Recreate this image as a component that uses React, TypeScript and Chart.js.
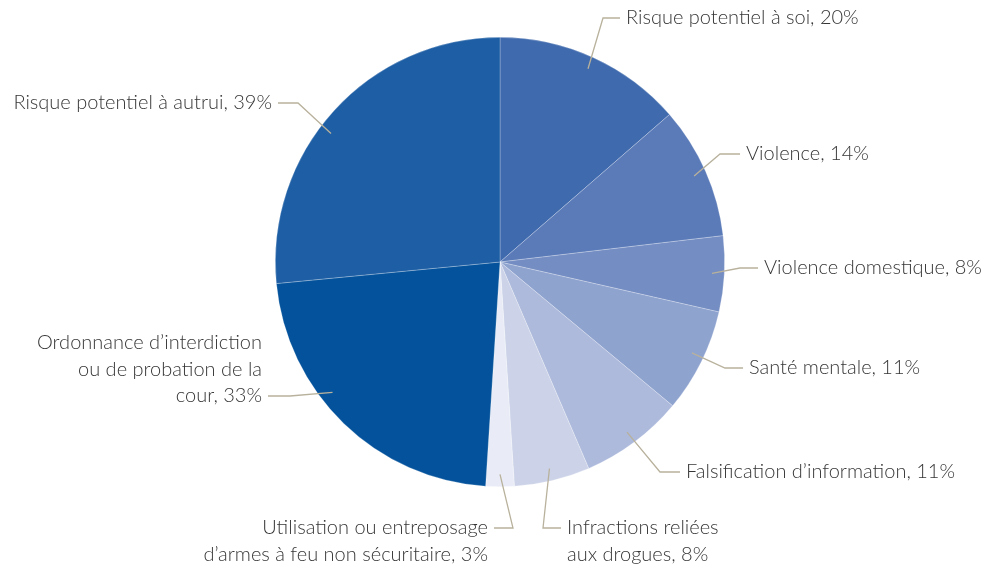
import React, { useEffect, useRef } from "react";
import { Chart, registerables } from "chart.js";

Chart.register(...registerables);

const categories: string[][] = [
  ["Risque potentiel à soi, 20%"],
  ["Violence, 14%"],
  ["Violence domestique, 8%"],
  ["Santé mentale, 11%"],
  ["Falsification d’information, 11%"],
  ["Infractions reliées", "aux drogues, 8%"],
  ["Utilisation ou entreposage", "d’armes à feu non sécuritaire, 3%"],
  ["Ordonnance d’interdiction", "ou de probation de la", "cour, 33%"],
  ["Risque potentiel à autrui, 39%"],
];
const values: number[] = [20, 14, 8, 11, 11, 8, 3, 33, 39];
const colors: string[] = [
  "#3f6aad",
  "#5a7ab8",
  "#748dc2",
  "#8fa3cf",
  "#adbadc",
  "#ccd3e8",
  "#e9ecf6",
  "#03529b",
  "#1e5ea4",
];

// label layout: angle offset (deg) for leader start, elbow point, text side
const layout = [
  { da: 0, ex: 603, ey: 18, hx: 620, side: "r" },
  { da: 0, ex: 720, ey: 154, hx: 740, side: "r" },
  { da: 0, ex: 740, ey: 268, hx: 758, side: "r" },
  { da: -1, ex: 725, ey: 368, hx: 743, side: "r" },
  { da: 0, ex: 660, ey: 472, hx: 680, side: "r" },
  { da: 0, ex: 543, ey: 528, hx: 561, side: "r" },
  { da: 0, ex: 513, ey: 528, hx: 494, side: "l" },
  { da: 8, ex: 290, ey: 396, hx: 268, side: "l" },
  { da: -5, ex: 298, ey: 103, hx: 278, side: "l" },
];

const labelPlugin = {
  id: "leaderLabels",
  afterDraw(chart: any) {
    const ctx = chart.ctx;
    const meta = chart.getDatasetMeta(0);
    ctx.save();
    ctx.font = "300 20px Lato";
    ctx.textBaseline = "middle";
    meta.data.forEach((arc: any, i: number) => {
      const L = layout[i];
      const mid = (arc.startAngle + arc.endAngle) / 2 + (L.da * Math.PI) / 180;
      const r = arc.outerRadius * 0.945;
      const sx = arc.x + Math.cos(mid) * r;
      const sy = arc.y + Math.sin(mid) * r;
      ctx.strokeStyle = "#b8b19c";
      ctx.lineWidth = 1.3;
      ctx.beginPath();
      ctx.moveTo(sx, sy);
      ctx.lineTo(L.ex, L.ey);
      ctx.lineTo(L.hx, L.ey);
      ctx.stroke();
      ctx.fillStyle = "#363636";
      const lines = categories[i];
      const lh = 26.5;
      if (L.side === "r") {
        ctx.textAlign = "left";
        lines.forEach((t, k) => ctx.fillText(t, L.hx + 6, L.ey + k * lh));
      } else {
        ctx.textAlign = "right";
        const attach = i === 6 ? 0 : lines.length - 1;
        lines.forEach((t, k) => ctx.fillText(t, L.hx - 6, L.ey + (k - attach) * lh));
      }
    });
    ctx.restore();
  },
};

export default function App() {
  const ref = useRef<HTMLCanvasElement>(null);
  useEffect(() => {
    document.body.style.margin = "0";
    const chart = new Chart(ref.current!, {
      type: "pie",
      data: {
        labels: categories.map((c) => c.join(" ")),
        datasets: [
          {
            data: values,
            backgroundColor: colors,
            borderColor: "rgba(255,255,255,0.35)",
            borderWidth: 0.7,
          },
        ],
      },
      options: {
        responsive: false,
        animation: false,
        layout: { padding: { top: 37, bottom: 82, left: 0, right: 5 } },
        plugins: {
          legend: { display: false },
          tooltip: { enabled: false },
        },
      },
      plugins: [labelPlugin],
    });
    return () => chart.destroy();
  }, []);
  return (
    <div style={{ width: 1005, height: 569, background: "#fff" }}>
      <canvas ref={ref} width={1005} height={569} style={{ display: "block" }} />
    </div>
  );
}
